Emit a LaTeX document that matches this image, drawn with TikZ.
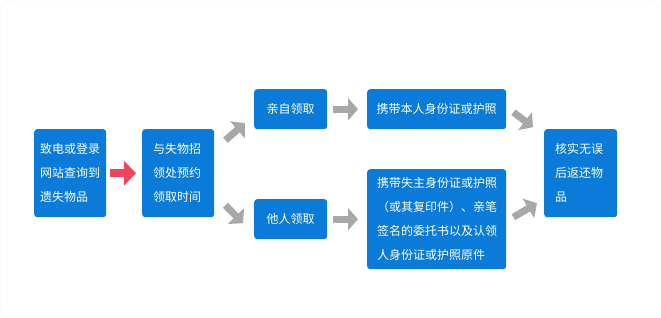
\documentclass[tikz,border=0pt]{standalone}
\usepackage{xcolor}
\usepackage{fontspec}
\usepackage{tikz}
\usetikzlibrary{arrows.meta, positioning, calc}
\newfontfamily\cjk{Noto Sans CJK SC}
\definecolor{boxblue}{HTML}{0A7BD8}
\definecolor{arrowgray}{HTML}{A8A8A8}
\definecolor{arrowred}{HTML}{F2435A}

\tikzset{
  stepbox/.style={fill=boxblue, draw=none, rounded corners=3pt, text=white,
    font=\cjk\fontsize{12}{24}\selectfont, inner ysep=0pt, anchor=north west},
  grayarrow/.style={draw=arrowgray, line width=7pt, -{Triangle[width=22pt, length=10pt]}},
  redarrow/.style={draw=arrowred, line width=8pt, -{Triangle[width=24pt, length=12pt]}},
}

\begin{document}
\begin{tikzpicture}[x=1pt, y=-1pt]
    % Panel
    \useasboundingbox (0,0) rectangle (661,318);
    \draw[fill=white, draw=black!3, rounded corners=8pt] (0.5,0.5) rectangle (660.5,317.5);

    % Boxes
    \node[stepbox, minimum width=72pt, minimum height=88pt, text width=60pt, inner xsep=6pt, align=left]
      (box1) at (34,129) {致电或登录\\网站查询到\\遗失物品};
    \node[stepbox, minimum width=72pt, minimum height=88pt, text width=50pt, inner xsep=11pt, align=left]
      (box2) at (142,129) {与失物招\\领处预约\\领取时间};
    \node[stepbox, minimum width=73pt, minimum height=40pt, align=center]
      (box3) at (254,89) {亲自领取};
    \node[stepbox, minimum width=139pt, minimum height=40pt, align=center]
      (box4) at (367,89) {携带本人身份证或护照};
    \node[stepbox, minimum width=73pt, minimum height=40pt, align=center]
      (box5) at (254,199) {他人领取};
    \node[stepbox, minimum width=139pt, minimum height=100pt, text width=119pt, inner xsep=10pt, align=left]
      (box6) at (367,169) {携带失主身份证或护照\\（或其复印件）、亲笔\\签名的委托书以及认领\\人身份证或护照原件};
    \node[stepbox, minimum width=73pt, minimum height=88pt, text width=51pt, inner xsep=11pt, align=left]
      (box7) at (544,129) {核实无误\\后返还物\\品};

    % Arrows
    \draw[redarrow, shorten <=4pt, shorten >=6pt] (box1.east) -- (box2.west);
    \draw[grayarrow] ([shift={(11,-33)}]box2.east) -- ([shift={(-9,14)}]box3.west);
    \draw[grayarrow] ([shift={(11,32)}]box2.east) -- ([shift={(-11,4)}]box5.west);
    \draw[grayarrow, shorten <=6pt, shorten >=9pt] (box3.east) -- (box4.west);
    \draw[grayarrow, shorten <=6pt, shorten >=9pt] (box5.east) -- (box6.west);
    \draw[grayarrow] ([shift={(7,3)}]box4.east) -- ([shift={(-11,-46)}]box7.west);
    \draw[grayarrow] ([shift={(7,-2)}]box6.east) -- ([shift={(-7,30)}]box7.west);
\end{tikzpicture}
\end{document}
